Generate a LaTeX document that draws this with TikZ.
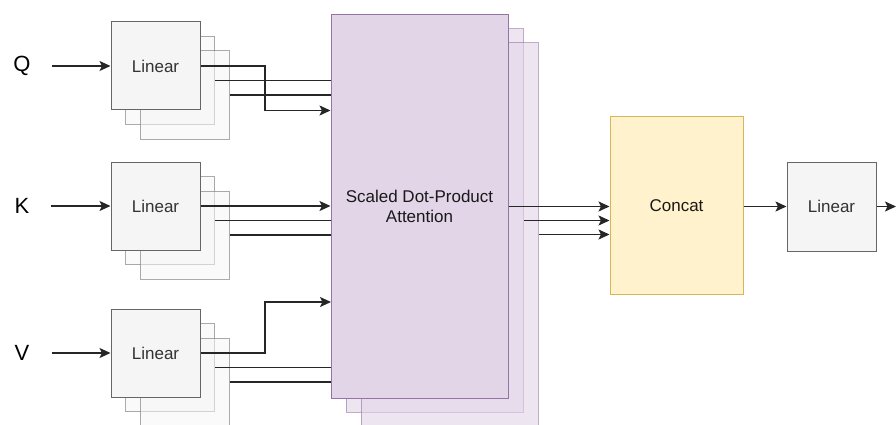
\documentclass[tikz,border=0pt]{standalone}
\usepackage{fontspec}
\setmainfont{Liberation Sans}
\usetikzlibrary{arrows.meta}
\definecolor{lingray}{HTML}{F5F5F5}
\definecolor{linedge}{HTML}{666666}
\definecolor{lintext}{HTML}{333333}
\definecolor{attfill}{HTML}{E1D5E7}
\definecolor{attedge}{HTML}{9673A6}
\definecolor{catfill}{HTML}{FFF2CC}
\definecolor{catedge}{HTML}{D6B656}
\tikzset{
  linbox/.style={draw=linedge, fill=lingray, line width=1pt, minimum width=89pt, minimum height=88pt,
    inner sep=0pt, font=\fontsize{17}{20}\selectfont, text=lintext},
  linback/.style={linbox, draw opacity=0.55, fill opacity=0.55},
  attbox/.style={draw=attedge, fill=attfill, line width=1pt, minimum width=177pt, minimum height=383pt,
    inner sep=0pt, align=center, font=\fontsize{17}{20}\selectfont, text=black!90},
  attback/.style={attbox, draw opacity=0.6, fill opacity=0.6},
  catbox/.style={draw=catedge, fill=catfill, line width=1pt, minimum width=133pt, minimum height=177pt,
    inner sep=0pt, font=\fontsize{17}{20}\selectfont, text=black!90},
  inlabel/.style={inner sep=0pt, font=\fontsize{22}{24}\selectfont},
  wire/.style={line width=1.4pt, black!85},
  arr/.style={wire, -{Stealth[length=11pt, width=10pt, inset=2.5pt]}}
}
\begin{document}
\begin{tikzpicture}[x=1pt, y=-1pt]
\useasboundingbox (0,0) rectangle (896,425);

% attention heads: two stacked copies behind the front block
\node[attback] (att2) at (434.5,220.5) {};
\node[attback] (att3) at (449.5,234.5) {};
\node[attbox]  (att)  at (419.5,206.5) {Scaled Dot-Product\\Attention};

% linear projections for Q, K and V, each with two copies behind
\foreach \n/\y in {q/66, k/206, v/353} {
  \node[linback] (\n2) at (170,\y+14.5) {};
  \node[linback] (\n3) at (184.5,\y+29) {};
  \node[linbox]  (\n1) at (155.5,\y) {Linear};
}

% inputs
\node[inlabel] (Q) at (22,66) {Q};
\node[inlabel] (K) at (22,206) {K};
\node[inlabel] (V) at (22,353) {V};
\draw[arr] ([xshift=21pt]Q.east) -- (q1.west);
\draw[arr] ([xshift=21pt]K.east) -- (k1.west);
\draw[arr] ([xshift=22pt]V.east) -- (v1.west);

% wiring from the projections into the attention block
\coordinate (qbend) at (265,66);
\coordinate (vbend) at (265,353);
\coordinate (vin) at (331,302);
\draw[arr] (q1.east) -- (qbend) |- (att.west |- q1.south);
\draw[wire] (q2.east) -- (att.west |- q2.east);
\draw[wire] (q3.east) -- (att.west |- q3.east);

\draw[arr] (k1.east) -- (att.west |- k1.east);
\draw[wire] (k2.east) -- (att.west |- k2.east);
\draw[wire] (k3.east) -- (att.west |- k3.east);

\draw[arr] (v1.east) -- (vbend) |- (vin);
\draw[wire] (v2.east) -- (att.west |- v2.east);
\draw[wire] (v3.east) -- (att.west |- v3.east);

% concatenation and final projection
\node[catbox] (cat) at (676.5,205.5) {Concat};
\node[linbox, minimum height=89pt] (lin) at (831.5,206.5) {Linear};
\coordinate (out) at (896,206.5);

\draw[arr] (att.east) -- (cat.west |- att.east);
\draw[arr] (att2.east) -- (cat.west |- att2.east);
\draw[arr] (att3.east) -- (cat.west |- att3.east);
\draw[arr] (cat.east |- lin.west) -- (lin.west);
\draw[arr] (lin.east) -- (out);
\end{tikzpicture}
\end{document}
